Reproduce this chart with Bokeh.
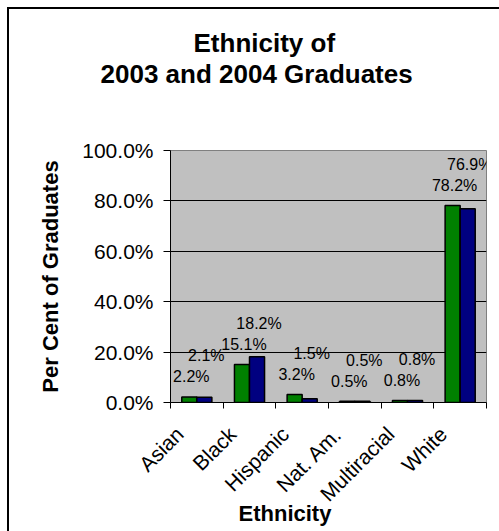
from bokeh.core.properties import value
from bokeh.embed import file_html
from bokeh.models import (ColumnDataSource, FixedTicker, PrintfTickFormatter,
                          Range1d, Title)
from bokeh.plotting import figure
from bokeh.resources import INLINE
import math

# Graduates by ethnicity, per cent of each class
categories = ["Asian", "Black", "Hispanic", "Nat. Am.", "Multiracial", "White"]
grads_2003 = [2.2, 15.1, 3.2, 0.5, 0.8, 78.2]
grads_2004 = [2.1, 18.2, 1.5, 0.5, 0.8, 76.9]
y_ticks = [0, 20, 40, 60, 80, 100]

FONT = "Liberation Sans"
GREEN = "#008000"
NAVY = "#000080"

W, H = 499, 531
LEFT, RIGHT, TOP, BOTTOM = 170, 13, 150, 129
frame_h = H - TOP - BOTTOM
px_per_pct = frame_h / 100.0

n = len(categories)
bar_w = 1 / 3.5  # two bars per category with a 150% gap
centers = [i + 0.5 for i in range(n)]
x_2003 = [c - bar_w / 2 for c in centers]
x_2004 = [c + bar_w / 2 for c in centers]

# value labels: 2003 label sits above its bar, 2004 label is pushed above
# the 2003 label whenever the two would collide
gap_px = 20
g_lab = [v * px_per_pct + gap_px for v in grads_2003]
b_lab = [max(b * px_per_pct + gap_px, g + 21) for b, g in zip(grads_2004, g_lab)]

src_2003 = ColumnDataSource(dict(
    x=x_2003, top=grads_2003,
    text=[f"{v:.1f}%" for v in grads_2003],
    yoff=[-(g - v * px_per_pct) for g, v in zip(g_lab, grads_2003)],
))
src_2004 = ColumnDataSource(dict(
    x=x_2004, top=grads_2004,
    text=[f"{v:.1f}%" for v in grads_2004],
    yoff=[-(b - v * px_per_pct) for b, v in zip(b_lab, grads_2004)],
))

p = figure(
    width=W, height=H, title=None,
    x_range=Range1d(0, n), y_range=Range1d(0, 100),
    output_backend="svg", toolbar_location=None,
    min_border_left=LEFT, min_border_right=RIGHT,
    min_border_top=TOP, min_border_bottom=BOTTOM,
)
# chart-area border: two stacked inset shadows leave a 2px black edge
# 7px in from the top and left; the canvas margin is transparent so it shows
p.styles = {
    "background-color": "white",
    "box-shadow": "inset 7px 7px 0px 0px white, inset 9px 9px 0px 0px black",
}
p.background_fill_color = "#C0C0C0"
p.border_fill_alpha = 0
p.outline_line_color = "#808080"
p.outline_line_width = 1

p.vbar(x="x", top="top", width=bar_w, source=src_2003,
       fill_color=GREEN, line_color="black", line_width=1.5)
p.vbar(x="x", top="top", width=bar_w, source=src_2004,
       fill_color=NAVY, line_color="black", line_width=1.5)

for src in (src_2003, src_2004):
    p.text(x="x", y="top", text="text", source=src,
           x_offset=2, y_offset="yoff",
           text_align="center", text_baseline="middle",
           text_font=value(FONT), text_font_size="16px", text_color="black")

# y axis
p.yaxis.ticker = FixedTicker(ticks=y_ticks)
p.yaxis.formatter = PrintfTickFormatter(format="%.1f%%")
p.yaxis.major_label_text_font = FONT
p.yaxis.major_label_text_font_size = "21px"
p.yaxis.major_label_text_color = "black"
p.yaxis.major_label_standoff = 10
p.yaxis.major_tick_out = 7
p.yaxis.major_tick_in = 0
p.yaxis.minor_tick_line_color = None
p.yaxis.axis_line_color = "black"
p.yaxis.axis_label = "Per Cent of Graduates"
p.yaxis.axis_label_text_font = FONT
p.yaxis.axis_label_text_font_style = "bold"
p.yaxis.axis_label_text_font_size = "22px"
p.yaxis.axis_label_text_color = "black"
p.yaxis.axis_label_standoff = 16

# x axis: tick marks between categories; rotated names end just left of
# each category centre
label_shift = 17 / ((W - LEFT - RIGHT) / n)
label_ticks = [c - label_shift for c in centers]
p.xaxis.ticker = FixedTicker(ticks=label_ticks, minor_ticks=list(range(n + 1)))
p.xaxis.major_label_overrides = {t: name for t, name in zip(label_ticks, categories)}
p.xaxis.major_label_orientation = math.pi / 4
p.xaxis.major_label_text_font = FONT
p.xaxis.major_label_text_font_size = "21px"
p.xaxis.major_label_text_color = "black"
p.xaxis.major_label_standoff = 22
p.xaxis.major_tick_line_color = None
p.xaxis.minor_tick_out = 6
p.xaxis.minor_tick_in = 0
p.xaxis.minor_tick_line_color = "black"
p.xaxis.axis_line_color = "black"

p.xgrid.grid_line_color = None
p.ygrid.grid_line_color = "black"
p.ygrid.grid_line_width = 1

# chart title (two lines) above a blank spacer, x-axis title below
title_kw = dict(align="left", text_font=FONT, text_font_style="bold",
                text_color="black")
p.add_layout(Title(text=" ", standoff=48, text_font_size="10px",
                   **title_kw), "above")
p.add_layout(Title(text="2003 and 2004 Graduates", offset=-70,
                   vertical_align="middle", standoff=0,
                   text_font_size="26px", **title_kw), "above")
p.add_layout(Title(text="Ethnicity of", offset=23, vertical_align="bottom",
                   standoff=0, text_font_size="26px", **title_kw), "above")
p.add_layout(Title(text="Ethnicity", offset=68, vertical_align="top",
                   standoff=-32, text_font_size="22px", **title_kw), "below")

open("out.html", "w").write(file_html(p, INLINE))
